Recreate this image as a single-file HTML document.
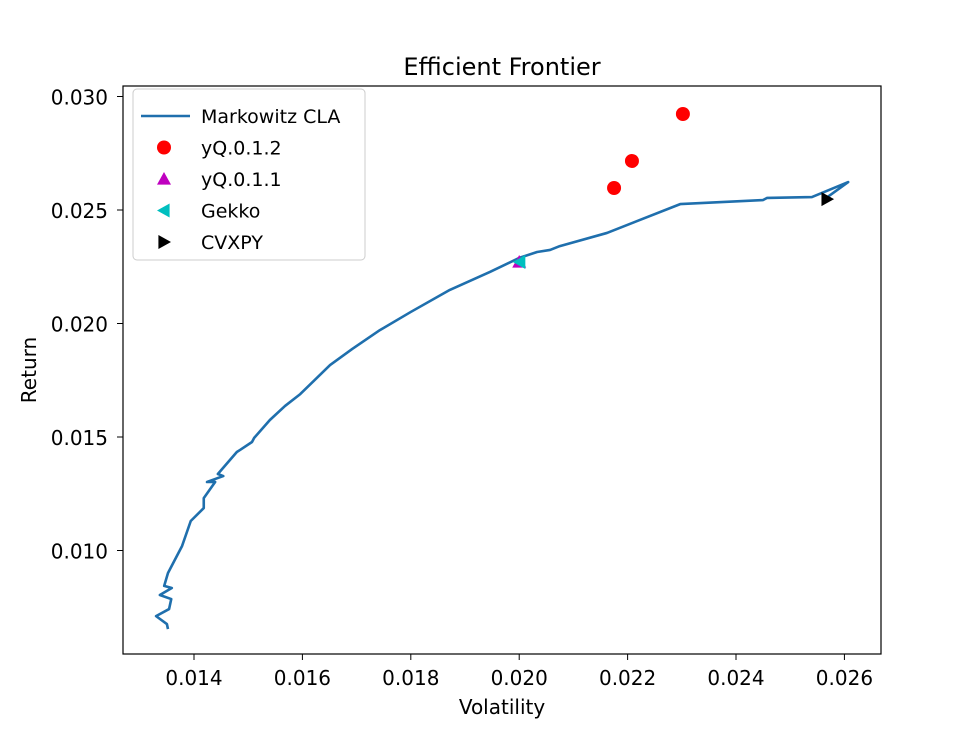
<!DOCTYPE html>
<html><head><meta charset="utf-8"><style>body{margin:0;background:#fff}svg{font-family:"DejaVu Sans","Liberation Sans",sans-serif}</style></head>
<body>
<svg id="c" width="980" height="735"></svg>
<script>
const curveX=[.01352,.01350,.01330,.01354,.01358,.01337,.01359,.01345,.01352,.01378,.01394,.01418,.01418,.01439,.01424,.01454,.01444,.01479,.01485,.01507,.01511,.01540,.01568,.01596,.01651,.01692,.01743,.01800,.01872,.01946,.02000,.02033,.02057,.02075,.02162,.02297,.02450,.02457,.02540,.02607,.02561];
const curveY=[.00654,.00676,.00711,.00742,.00786,.00804,.00835,.00844,.00901,.01020,.01130,.01187,.01231,.01302,.01302,.01328,.01337,.01434,.01443,.01478,.01496,.01575,.01637,.01689,.01817,.01888,.01971,.02051,.02148,.02227,.02289,.02315,.02324,.02341,.02399,.02526,.02544,.02553,.02557,.02623,.02544];
const yq2X=[.02175,.02208,.02302], yq2Y=[.02597,.02716,.02923];
const yq1X=[.02000], yq1Y=[.02271];
const gekX=[.02001], gekY=[.02271];
const cvxX=[.02568], cvxY=[.02548];
const xTicks=[0.014,0.016,0.018,0.020,0.022,0.024,0.026];
const yTicks=[0.010,0.015,0.020,0.025,0.030];
const L=123,R=881,T=86,B=654,x0=.01269,x1=.026675,y0=.005441,y1=.030463;
const sx=v=>L+(v-x0)/(x1-x0)*(R-L), sy=v=>B-(v-y0)/(y1-y0)*(B-T);
const svg=document.getElementById('c'),NS='http://www.w3.org/2000/svg';
function mk(t,a,p){const e=document.createElementNS(NS,t);for(const k in a)e.setAttribute(k,a[k]);(p||svg).appendChild(e);return e;}
let e;
e=mk('text',{x:502,y:75,'text-anchor':'middle','font-size':24});e.textContent='Efficient Frontier';


e=mk('rect',{x:L,y:T,width:R-L,height:B-T,fill:'none',stroke:'#000','stroke-width':1.2});


xTicks.forEach(v=>{const x=sx(v);mk('line',{x1:x,x2:x,y1:B,y2:B+6,stroke:'#000'});
e=mk('text',{x:x,y:B+31,'text-anchor':'middle','font-size':20});e.textContent=v.toFixed(3);

});
yTicks.forEach(v=>{const y=sy(v);mk('line',{x1:L-6,x2:L,y1:y,y2:y,stroke:'#000'});
e=mk('text',{x:L-15,y:y+8,'text-anchor':'end','font-size':20});e.textContent=v.toFixed(3);

});
e=mk('text',{x:502,y:714,'text-anchor':'middle','font-size':20});e.textContent='Volatility';


e=mk('text',{x:36,y:370,'text-anchor':'middle','font-size':20,transform:'rotate(-90 36 370)'});e.textContent='Return';


e=mk('polyline',{points:curveX.map((v,i)=>sx(v)+','+sy(curveY[i])).join(' '),fill:'none',stroke:'#1f6fad','stroke-width':2.6,'stroke-linejoin':'round'});


yq2X.forEach((v,i)=>{e=mk('circle',{cx:sx(v),cy:sy(yq2Y[i]),r:7,fill:'#ff0000'});

});
function tri(cx,cy,dir,col,s){let p;if(dir=='up')p=[[cx,cy-s],[cx-s,cy+s*.8],[cx+s,cy+s*.8]];else if(dir=='left')p=[[cx-s,cy],[cx+s*.8,cy-s],[cx+s*.8,cy+s]];else p=[[cx+s,cy],[cx-s*.8,cy-s],[cx-s*.8,cy+s]];return mk('polygon',{points:p.map(q=>q.join(',')).join(' '),fill:col});}
yq1X.forEach((v,i)=>{e=tri(sx(v),sy(yq1Y[i]),'up','#bf00bf',7);

});
gekX.forEach((v,i)=>{e=tri(sx(v),sy(gekY[i]),'left','#00bfbf',7);

});
cvxX.forEach((v,i)=>{e=tri(sx(v),sy(cvxY[i]),'right','#000',7);

});
e=mk('rect',{x:133,y:89,width:232,height:171,rx:4,fill:'#fff','fill-opacity':.8,stroke:'#ccc'});


const lg=[['Markowitz CLA','line'],['yQ.0.1.2','dot'],['yQ.0.1.1','up'],['Gekko','left'],['CVXPY','right']];
lg.forEach((d,i)=>{const y=116+i*31.5;
if(d[1]=='line')mk('line',{x1:141,x2:190,y1:y,y2:y,stroke:'#1f6fad','stroke-width':2.6});
else if(d[1]=='dot')mk('circle',{cx:164,cy:y,r:7,fill:'#ff0000'});
else tri(164,y,d[1],d[1]=='up'?'#bf00bf':d[1]=='left'?'#00bfbf':'#000',7);
e=mk('text',{x:201,y:y+7,'font-size':19});e.textContent=d[0];

});
</script>
</body></html>
